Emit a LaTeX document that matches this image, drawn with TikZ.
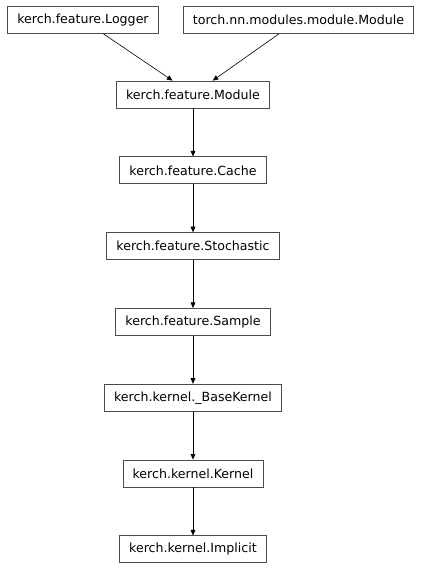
\documentclass[tikz,border=0pt]{standalone}
\usepackage{fontspec}
\setmainfont{DejaVu Sans}
\usetikzlibrary{positioning,arrows.meta}

\begin{document}
\begin{tikzpicture}[
		x=0.75pt,y=-0.75pt,
		>={Triangle[length=4.2pt,width=3.6pt]},
		node distance=36pt,
		every node/.append style={
			font=\fontsize{9.45}{11}\selectfont,
		},
		cls/.style={draw=black!70,line width=0.6pt,minimum height=20.25pt,inner xsep=7.2pt,inner ysep=0pt},
		inh/.style={->,line width=0.45pt},
	]
	\useasboundingbox (0,0) rectangle (429,568);
	% the two bases on top
	\node[cls] (logger) at (83,20) {kerch.feature.Logger};
	\node[cls] (torchmod) at (298.5,20) {torch.nn.modules.module.Module};
	% the chain going down
	\node[cls] (module) at (193,94.5) {kerch.feature.Module};
	\node[cls] (cache) [below=of module] {kerch.feature.Cache};
	\node[cls] (stochastic) [below=of cache] {kerch.feature.Stochastic};
	\node[cls] (sample) [below=of stochastic] {kerch.feature.Sample};
	\node[cls] (basekernel) [below=of sample] {kerch.kernel.\_BaseKernel};
	\node[cls] (kernel) [below=of basekernel] {kerch.kernel.Kernel};
	\node[cls] (implicit) [below=of kernel] {kerch.kernel.Implicit};
	% draw the inheritance arrows
	\draw[inh] (logger) -- (module);
	\draw[inh] (torchmod) -- (module);
	\draw[inh] (module) -- (cache);
	\draw[inh] (cache) -- (stochastic);
	\draw[inh] (stochastic) -- (sample);
	\draw[inh] (sample) -- (basekernel);
	\draw[inh] (basekernel) -- (kernel);
	\draw[inh] (kernel) -- (implicit);
\end{tikzpicture}
\end{document}
